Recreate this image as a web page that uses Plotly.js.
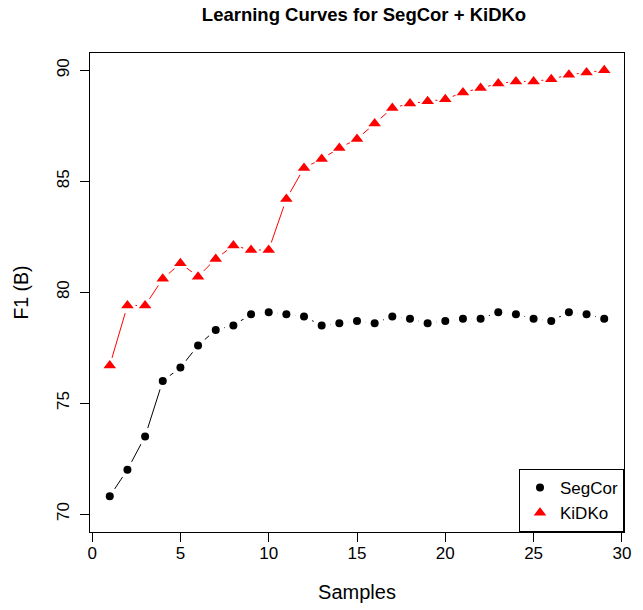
<!DOCTYPE html>
<html>
<head>
<meta charset="utf-8">
<script src="https://cdn.plot.ly/plotly-3.0.1.min.js"></script>
<style>html,body{margin:0;padding:0;background:#fff;}</style>
</head>
<body>
<div id="chart" style="width:643px;height:610px;"></div>
<script>
const samples = [1,2,3,4,5,6,7,8,9,10,11,12,13,14,15,16,17,18,19,20,21,22,23,24,25,26,27,28,29];
const segcor = [70.8,72.0,73.5,76.0,76.6,77.6,78.3,78.5,79.0,79.1,79.0,78.9,78.5,78.6,78.7,78.6,78.9,78.8,78.6,78.7,78.8,78.8,79.1,79.0,78.8,78.7,79.1,79.0,78.8];
const kidko = [76.7,79.4,79.4,80.6,81.3,80.7,81.5,82.1,81.9,81.9,84.2,85.6,86.0,86.5,86.9,87.6,88.3,88.5,88.6,88.7,89.0,89.2,89.4,89.5,89.5,89.6,89.8,89.9,90.0];
const seriesNames = ["SegCor", "KiDKo"];
const xTicks = [0,5,10,15,20,25,30];
const yTicks = [70,75,80,85,90];

const FONT = "Liberation Sans, Arial, Helvetica, sans-serif";

const traces = [
  {x: samples, y: segcor, mode: 'lines', line: {color: 'black', width: 1}, showlegend: false, hoverinfo: 'skip'},
  {x: samples, y: kidko, mode: 'lines', line: {color: 'red', width: 1}, showlegend: false, hoverinfo: 'skip'},
  {x: samples, y: segcor, mode: 'markers', marker: {symbol: 'circle', color: 'white', size: 18}, showlegend: false, hoverinfo: 'skip'},
  {x: samples, y: kidko, mode: 'markers', marker: {symbol: 'circle', color: 'white', size: 16}, showlegend: false, hoverinfo: 'skip'},
  {x: samples, y: segcor, name: seriesNames[0], mode: 'markers', marker: {symbol: 'circle', color: 'black', size: 8}},
  {x: samples, y: kidko, name: seriesNames[1], mode: 'markers', marker: {symbol: 'triangle-up', color: 'red', size: 11}}
];

const axisCommon = {
  showgrid: false, zeroline: false,
  showline: true, mirror: true, linecolor: 'black', linewidth: 1,
  ticks: 'outside', ticklen: 9, tickwidth: 1, tickcolor: 'black',
  tickfont: {family: FONT, size: 17, color: 'black'}
};

const layout = {
  width: 643, height: 610,
  margin: {l: 90, r: 19, t: 53, b: 78},
  paper_bgcolor: 'white', plot_bgcolor: 'white',
  font: {family: FONT, color: 'black'},
  title: {text: '<b>Learning Curves for SegCor + KiDKo</b>', font: {family: FONT, size: 18.5, color: 'black'},
          x: 364/643, xref: 'container', xanchor: 'center', y: 1 - 15/610, yref: 'container', yanchor: 'middle'},
  xaxis: Object.assign({}, axisCommon, {
    range: [-0.12, 30.12], tickvals: xTicks, ticktext: xTicks.map(String),
    ticklabelstandoff: -3,
    title: {text: 'Samples', font: {family: FONT, size: 20, color: 'black'}, standoff: 22}
  }),
  yaxis: Object.assign({}, axisCommon, {
    range: [69.19, 90.78], tickvals: yTicks, ticktext: yTicks.map(String), tickangle: -90,
    ticklabelstandoff: 4,
    title: {text: 'F1 (B)', font: {family: FONT, size: 19.5, color: 'black'}, standoff: 20}
  }),
  legend: {
    x: 1, xanchor: 'right', y: 0, yanchor: 'bottom',
    bgcolor: 'white', bordercolor: 'black', borderwidth: 1,
    font: {family: FONT, size: 17, color: 'black'},
    traceorder: 'normal'
  },
  showlegend: true
};

Plotly.newPlot('chart', traces, layout, {displayModeBar: false, staticPlot: true});
</script>
</body>
</html>
